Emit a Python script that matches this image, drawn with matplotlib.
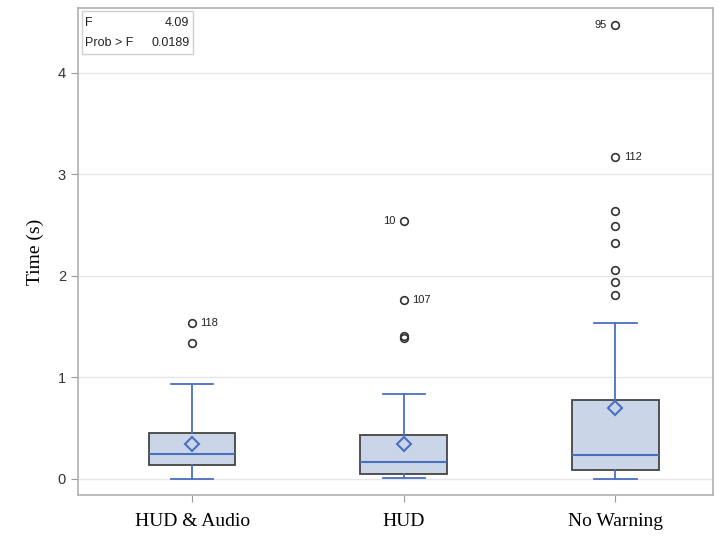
import matplotlib.pyplot as plt
from matplotlib.patches import Rectangle

groups = ['HUD & Audio', 'HUD', 'No Warning']
q1 = [0.14, 0.05, 0.09]
median = [0.25, 0.17, 0.24]
q3 = [0.455, 0.43, 0.78]
mean = [0.345, 0.345, 0.70]
whislo = [0.0, 0.01, 0.0]
whishi = [0.935, 0.84, 1.54]
fliers = [
    [1.34, 1.54],
    [1.39, 1.41, 1.76, 2.54],
    [1.81, 1.94, 2.06, 2.32, 2.49, 2.64, 3.17, 4.47],
]
# labelled outliers: (group index, value, label, side)
flier_labels = [(0, 1.54, '118', 'right'), (1, 1.76, '107', 'right'),
                (1, 2.54, '10', 'left'), (2, 3.17, '112', 'right'),
                (2, 4.47, '95', 'left')]

blue = '#4a6fc0'
stats = []
for i in range(len(groups)):
    stats.append({'med': median[i], 'q1': q1[i], 'q3': q3[i], 'mean': mean[i],
                  'whislo': whislo[i], 'whishi': whishi[i], 'fliers': fliers[i]})

fig = plt.figure(figsize=(7.2, 5.37), dpi=100)
ax = fig.add_axes([0.108, 0.078, 0.882, 0.907])

ax.bxp(stats, positions=[1, 2, 3], widths=0.41, showmeans=True, patch_artist=True,
       boxprops=dict(facecolor='#cad6e8', edgecolor='#444444', linewidth=1.3),
       medianprops=dict(color=blue, linewidth=1.5),
       whiskerprops=dict(color=blue, linewidth=1.3),
       capprops=dict(color=blue, linewidth=1.3),
       capwidths=0.2,
       meanprops=dict(marker='D', markerfacecolor='none', markeredgecolor=blue,
                      markersize=7.5, markeredgewidth=1.5),
       flierprops=dict(marker='o', markerfacecolor='none', markeredgecolor='#333333',
                       markersize=5.5, markeredgewidth=1.2),
       zorder=3)

for gi, val, lab, side in flier_labels:
    if side == 'right':
        ax.text(gi + 1 + 0.04, val, lab, ha='left', va='center', fontsize=8,
                family='Liberation Sans', color='#222222')
    else:
        ax.text(gi + 1 - 0.04, val, lab, ha='right', va='center', fontsize=8,
                family='Liberation Sans', color='#222222')

ax.set_xlim(0.46, 3.46)
ax.set_ylim(-0.16, 4.64)
ax.set_yticks([0, 1, 2, 3, 4])
ax.set_xticks([1, 2, 3])
ax.set_xticklabels(groups, family='Liberation Serif', fontsize=14)
for t in ax.get_yticklabels():
    t.set_family('Liberation Sans')
    t.set_fontsize(10.5)
    t.set_color('#333333')
ax.set_ylabel('Time (s)', family='Liberation Serif', fontsize=14, labelpad=10)
ax.yaxis.grid(True, color='#e6e6e6', linewidth=1)
ax.set_axisbelow(True)
ax.tick_params(colors='#999999', length=5, labelcolor='#333333')
ax.tick_params(axis='x', labelcolor='black', pad=8)
for s in ax.spines.values():
    s.set_color('#b0b0b0')
    s.set_linewidth(1.2)

# inset statistics table
ax.add_patch(Rectangle((0.007, 0.905), 0.174, 0.088, transform=ax.transAxes,
                       facecolor='white', edgecolor='#d0d0d0', linewidth=1, zorder=4))
ax.text(0.012, 0.970, 'F', transform=ax.transAxes, fontsize=9, va='center',
        family='Liberation Sans', color='#222222', zorder=5)
ax.text(0.176, 0.970, '4.09', transform=ax.transAxes, fontsize=9, va='center',
        ha='right', family='Liberation Sans', color='#222222', zorder=5)
ax.text(0.012, 0.928, 'Prob > F', transform=ax.transAxes, fontsize=9, va='center',
        family='Liberation Sans', color='#222222', zorder=5)
ax.text(0.176, 0.928, '0.0189', transform=ax.transAxes, fontsize=9, va='center',
        ha='right', family='Liberation Sans', color='#222222', zorder=5)

plt.savefig('out.png', dpi=100)
